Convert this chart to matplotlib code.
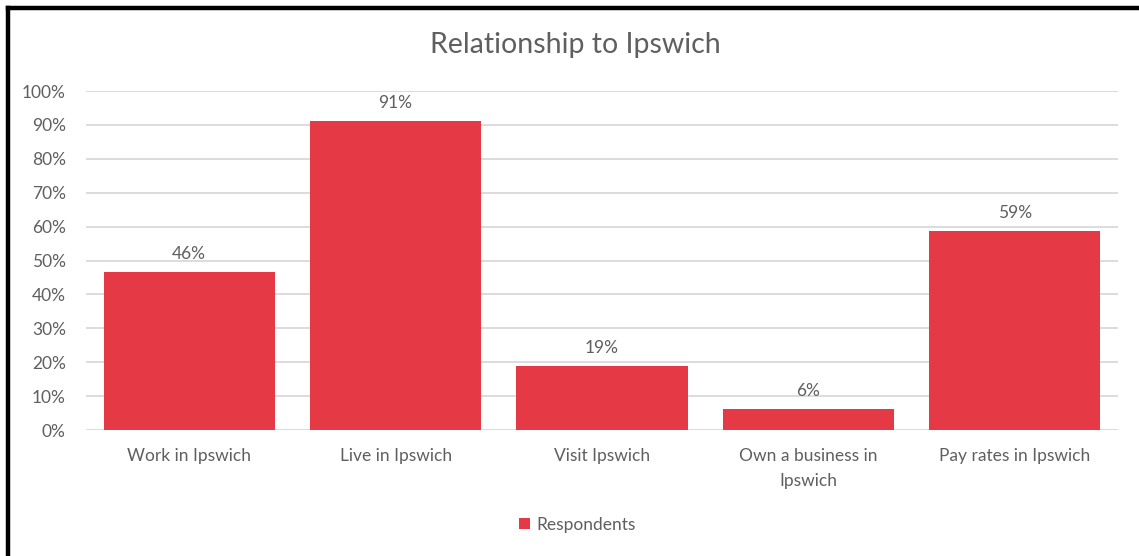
import matplotlib.pyplot as plt
from matplotlib.lines import Line2D
from matplotlib.ticker import MultipleLocator, PercentFormatter

categories = ["Work in Ipswich", "Live in Ipswich", "Visit Ipswich",
              "Own a business in\nIpswich", "Pay rates in Ipswich"]
respondents = [46.5, 91.1, 18.9, 6.2, 58.6]

plt.rcParams["font.family"] = ["Lato", "DejaVu Sans"]
grey = "#5F5F5F"
red = "#E63946"

fig = plt.figure(figsize=(11.39, 5.56), dpi=100)
ax = fig.add_axes([0.0755, 0.2266, 0.906, 0.6097])

x = range(len(categories))
bars = ax.bar(x, respondents, width=0.83, color=red, label="Respondents", zorder=3)
for b, v in zip(bars, respondents):
    ax.text(b.get_x() + b.get_width() / 2, v + 3, f"{v:.0f}%",
            ha="center", va="bottom", fontsize=12.5, color=grey)

ax.set_xlim(-0.5, len(categories) - 0.5)
ax.set_ylim(0, 100)
ax.yaxis.set_major_locator(MultipleLocator(10))
ax.yaxis.set_major_formatter(PercentFormatter(decimals=0))
ax.set_xticks(list(x))
ax.set_xticklabels(categories, linespacing=1.65)
ax.tick_params(axis="both", length=0, labelsize=12.5, labelcolor=grey)
ax.tick_params(axis="y", pad=14.5)
ax.tick_params(axis="x", pad=13)
ax.grid(axis="y", color="#D9D9D9", linewidth=1.3, zorder=0)
for s in ax.spines.values():
    s.set_visible(False)

# title and legend are centred on the whole figure, not the plot area
fig.text(0.505, 1 - 45 / 556, "Relationship to Ipswich", fontsize=20.5,
         color=grey, ha="center", va="center")
fig.legend(loc="center", bbox_to_anchor=(0.507, 1 - 525 / 556), frameon=False,
           fontsize=12.5, labelcolor=grey, handlelength=0.6, handleheight=0.6,
           handletextpad=0.4)

# black frame on the top and left edges
fx, fy = 7.5 / 1139, 1 - 7.5 / 556
fig.add_artist(Line2D([fx, fx], [0, fy], transform=fig.transFigure,
                      color="black", linewidth=3.2, solid_capstyle="projecting"))
fig.add_artist(Line2D([fx, 1], [fy, fy], transform=fig.transFigure,
                      color="black", linewidth=3.2, solid_capstyle="projecting"))

fig.savefig("out.png", dpi=100)
